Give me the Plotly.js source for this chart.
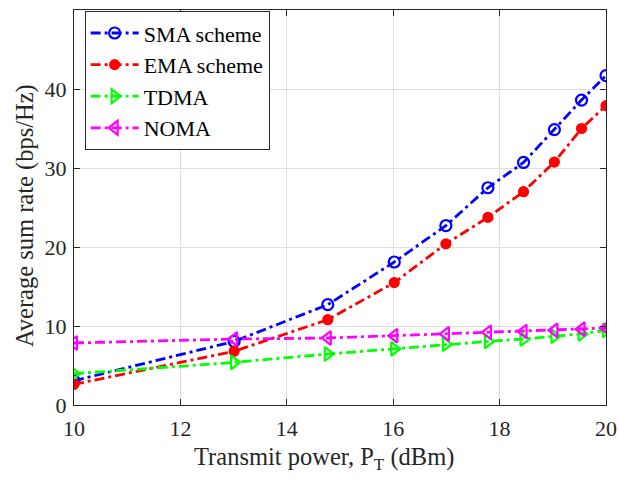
<!DOCTYPE html>
<html>
<head>
<meta charset="utf-8">
<script src="https://cdn.plot.ly/plotly-3.0.1.min.js"></script>
<style>
  html, body { margin: 0; padding: 0; background: #fff; }
  #chart { width: 619px; height: 486px; }
</style>
</head>
<body>
<div id="chart"></div>
<script>
// Transmit power points (dBm)
const powerDbm = [10, 13.01, 14.77, 16.02, 16.99, 17.78, 18.45, 19.03, 19.54, 20];

// Average sum rate (bps/Hz) for each scheme
const smaRate  = [3.07, 8.05, 12.7, 18.1, 22.7, 27.5, 30.7, 34.85, 38.6, 41.7];
const emaRate  = [2.62, 6.8, 10.8, 15.5, 20.4, 23.75, 27.0, 30.75, 35.0, 37.9];
const tdmaRate = [3.96, 5.4, 6.45, 7.1, 7.7, 8.05, 8.35, 8.7, 9.0, 9.45];
const nomaRate = [7.85, 8.35, 8.48, 8.77, 9.0, 9.2, 9.3, 9.45, 9.6, 9.75];

const seriesNames = ['SMA scheme', 'EMA scheme', 'TDMA', 'NOMA'];
const xTitle = 'Transmit power, P<sub>T</sub> (dBm)';
const yTitle = 'Average sum rate (bps/Hz)';

const serif = 'Liberation Serif, Times New Roman, serif';
const dashDot = '10px,4px,3px,4px';

function series(name, y, color, symbol, size) {
  return {
    x: powerDbm, y: y, name: name, type: 'scatter', mode: 'lines+markers',
    line: { color: color, width: 2.8, dash: dashDot },
    marker: { color: color, symbol: symbol, size: size, line: { color: color, width: 2.2 } }
  };
}

const traces = [
  series(seriesNames[0], smaRate,  '#0000ff', 'circle-open', 11),
  series(seriesNames[1], emaRate,  '#ff0000', 'circle', 9),
  series(seriesNames[2], tdmaRate, '#00ff00', 'triangle-right-open', 12),
  series(seriesNames[3], nomaRate, '#ff00ff', 'triangle-left-open', 12)
];

const axisCommon = {
  showline: true, linecolor: '#262626', linewidth: 1, mirror: 'ticks',
  ticks: 'inside', ticklen: 6, tickcolor: '#262626', tickwidth: 1,
  showgrid: true, gridcolor: '#dedede', gridwidth: 1, zeroline: false,
  tickfont: { family: serif, size: 22, color: '#262626' }
};

const titleFont = { family: serif, size: 24.5, color: '#262626' };

const layout = {
  width: 619, height: 486,
  margin: { l: 74, r: 13, t: 10, b: 81 },
  paper_bgcolor: '#fff', plot_bgcolor: '#fff',
  showlegend: true,
  legend: {
    x: 0.02, y: 0.997, xanchor: 'left', yanchor: 'top',
    bgcolor: '#fff', bordercolor: '#262626', borderwidth: 1,
    font: { family: serif, size: 22, color: '#000' },
    itemwidth: 48,
    tracegroupgap: 0
  },
  xaxis: Object.assign({}, axisCommon, {
    range: [10, 20], tickvals: [10, 12, 14, 16, 18, 20],
    ticklabelstandoff: 4
  }),
  yaxis: Object.assign({}, axisCommon, {
    range: [0, 50], tickvals: [0, 10, 20, 30, 40, 50],
    ticklabelstandoff: 2
  }),
  // axis titles placed as paper-anchored text
  annotations: [
    { text: xTitle, xref: 'paper', yref: 'paper', x: 0.47, y: -0.091,
      xanchor: 'center', yanchor: 'top', showarrow: false, font: titleFont },
    { text: yTitle, xref: 'paper', yref: 'paper', x: -0.092, y: 0.4785,
      xanchor: 'center', yanchor: 'middle', textangle: -90, showarrow: false, font: titleFont }
  ]
};

Plotly.newPlot('chart', traces, layout, { displayModeBar: false, staticPlot: true });
</script>
</body>
</html>
